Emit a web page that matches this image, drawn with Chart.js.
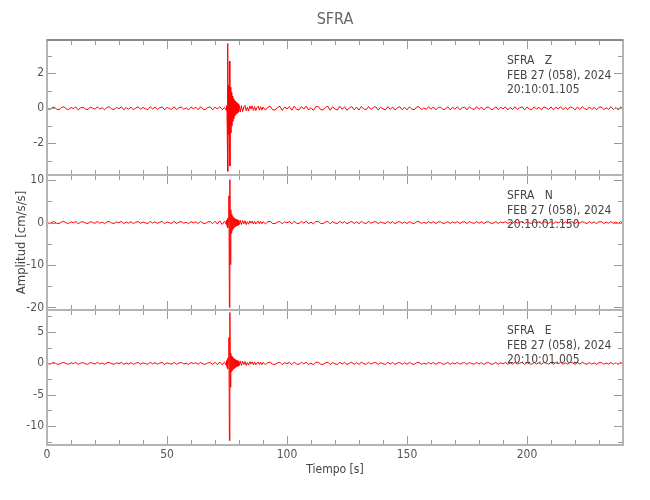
<!DOCTYPE html>
<html>
<head>
<meta charset="utf-8">
<title>SFRA</title>
<script src="https://cdn.jsdelivr.net/npm/chart.js@4.4.1/dist/chart.umd.min.js"></script>
<style>
  html, body { margin: 0; padding: 0; background: #fff; }
  #wrap { width: 650px; height: 500px; }
</style>
</head>
<body>
<div id="wrap"><canvas id="sfra" width="650" height="500"></canvas></div>
<script>
// time in seconds (shared by the three components)
const times = [
    0, 1, 2, 3, 4, 5, 6, 7, 8, 9, 10, 11, 12, 13, 14,
    15, 16, 17, 18, 19, 20, 21, 22, 23, 24, 25, 26, 27, 28, 29,
    30, 31, 32, 33, 34, 35, 36, 37, 38, 39, 40, 41, 42, 43, 44,
    45, 46, 47, 48, 49, 50, 51, 52, 53, 54, 55, 56, 57, 58, 59,
    60, 61, 62, 63, 64, 65, 66, 67, 68, 69, 70, 71, 72, 73, 74,
    // arrival
    74.6, 74.8, 75, 75.2, 75.4, 75.6, 75.8, 76, 76.2, 76.4, 76.6, 76.8, 77, 77.2,
    77.4, 77.6, 77.8, 78, 78.2, 78.4, 78.6, 78.8, 79, 79.2, 79.4, 79.6, 79.8, 80,
    // coda
    80.5, 81, 81.5, 82, 82.5, 83, 83.5, 84, 84.5, 85, 85.5, 86, 86.5, 87, 87.5, 88, 88.5, 89, 89.5, 90,
    91, 92, 93, 94, 95, 96, 97, 98, 99, 100, 101, 102, 103, 104, 105,
    106, 107, 108, 109, 110, 111, 112, 113, 114, 115, 116, 117, 118, 119, 120,
    121, 122, 123, 124, 125, 126, 127, 128, 129, 130, 131, 132, 133, 134, 135,
    136, 137, 138, 139, 140, 141, 142, 143, 144, 145, 146, 147, 148, 149, 150,
    151, 152, 153, 154, 155, 156, 157, 158, 159, 160, 161, 162, 163, 164, 165,
    166, 167, 168, 169, 170, 171, 172, 173, 174, 175, 176, 177, 178, 179, 180,
    181, 182, 183, 184, 185, 186, 187, 188, 189, 190, 191, 192, 193, 194, 195,
    196, 197, 198, 199, 200, 201, 202, 203, 204, 205, 206, 207, 208, 209, 210,
    211, 212, 213, 214, 215, 216, 217, 218, 219, 220, 221, 222, 223, 224, 225,
    226, 227, 228, 229, 230, 231, 232, 233, 234, 235, 236, 237, 238, 239, 240
];

// acceleration, cm/s/s
const ampZ = [
    0.06, -0.09, 0.02, 0.07, -0.05, -0.08, 0.04, 0.09, -0.03, -0.07, 0.05, -0.02, 0.08, -0.09, 0.03,
    0.06, -0.04, -0.08, 0.07, 0.01, -0.06, 0.09, -0.05, 0.03, -0.09, 0.06, 0.08, -0.04, -0.07, 0.05,
    -0.02, 0.09, -0.08, 0.04, -0.05, 0.07, -0.09, 0.02, 0.08, -0.06, 0.05, -0.03, -0.08, 0.09, -0.04,
    0.06, -0.07, 0.03, 0.08, -0.09, 0.05, -0.02, -0.06, 0.09, -0.08, 0.04, 0.07, -0.05, 0.02, -0.09,
    0.07, -0.03, 0.06, -0.08, 0.09, -0.05, -0.07, 0.04, 0.08, -0.09, 0.06, -0.04, 0.1, -0.08, 0.05,
    -0.1, 0.15, -0.3, 3.7, -3.6, 1.3, -1.5, 2.7, -3.3, 1.2, -1.4, 0.9, -1.0, 0.7,
    -0.75, 0.55, -0.6, 0.45, -0.45, 0.4, -0.35, 0.35, -0.3, 0.3, -0.28, 0.25, -0.22, 0.2,
    -0.22, 0.15, -0.19, 0.08, 0.17, -0.14, 0.06, -0.16, 0.13, -0.05, 0.14, -0.12, 0.1, -0.13, 0.04, 0.12, -0.1, 0.09, -0.11, 0.07,
    -0.11, 0.06, 0.12, -0.08, -0.1, 0.04, 0.11, -0.12, 0.07, -0.03, 0.1, -0.11, 0.12, -0.06, -0.09,
    0.1, -0.05, 0.12, -0.1, 0.03, -0.12, 0.09, 0.11, -0.07, -0.1, 0.05, 0.12, -0.11, 0.08, -0.04,
    -0.1, 0.11, -0.06, 0.09, -0.11, 0.02, 0.1, -0.09, 0.07, -0.1, 0.11, -0.04, -0.08, 0.1, -0.07,
    0.05, 0.09, -0.1, 0.06, -0.03, -0.09, 0.1, -0.07, 0.08, -0.1, 0.03, 0.09, -0.08, 0.06, -0.09,
    0.08, -0.04, -0.09, 0.07, 0.09, -0.08, 0.02, -0.07, 0.09, -0.06, 0.08, -0.09, 0.05, 0.07, -0.08,
    -0.03, 0.08, -0.09, 0.06, -0.05, 0.09, -0.08, 0.03, 0.07, -0.09, 0.08, -0.02, -0.07, 0.09, -0.06,
    0.07, -0.09, 0.04, 0.08, -0.07, -0.05, 0.09, -0.08, 0.06, -0.03, 0.08, -0.09, 0.05, -0.07, 0.09,
    -0.06, 0.03, 0.08, -0.09, 0.07, -0.04, -0.08, 0.09, -0.05, 0.06, -0.09, 0.08, 0.02, -0.07, 0.08,
    -0.09, 0.06, -0.03, 0.09, -0.08, 0.05, -0.07, 0.08, 0.04, -0.09, 0.07, -0.06, 0.09, -0.02, -0.08,
    0.08, -0.07, 0.05, -0.09, 0.06, 0.08, -0.08, 0.03, -0.06, 0.09, -0.07, 0.04, -0.09, 0.08, -0.05
];

const ampN = [
    0.18, -0.27, 0.06, 0.22, -0.15, -0.25, 0.12, 0.28, -0.09, -0.21, 0.15, -0.06, 0.24, -0.27, 0.09,
    0.18, -0.12, -0.24, 0.21, 0.03, -0.18, 0.27, -0.15, 0.09, -0.27, 0.18, 0.24, -0.12, -0.21, 0.15,
    -0.06, 0.27, -0.24, 0.12, -0.15, 0.21, -0.27, 0.06, 0.24, -0.18, 0.15, -0.09, -0.24, 0.27, -0.12,
    0.18, -0.21, 0.09, 0.24, -0.27, 0.15, -0.06, -0.18, 0.27, -0.24, 0.12, 0.21, -0.15, 0.06, -0.27,
    0.21, -0.09, 0.18, -0.24, 0.27, -0.15, -0.21, 0.12, 0.24, -0.27, 0.3, -0.35, 0.4, -0.45, 0.35,
    -0.4, 0.6, -0.8, 1.0, -1.2, 0.9, 6.3, -20.0, 10.1, -9.9, 3.0, -2.5, 2.0, -1.8,
    1.5, -1.4, 1.2, -1.1, 1.0, -0.95, 0.85, -0.8, 0.75, -0.7, 0.65, -0.6, 0.6, -0.55,
    0.55, -0.45, 0.5, -0.3, 0.42, -0.48, 0.2, -0.4, 0.38, -0.15, 0.36, -0.34, 0.3, -0.36, 0.12, 0.33, -0.3, 0.27, -0.32, 0.2,
    -0.3, 0.16, 0.31, -0.21, -0.26, 0.1, 0.29, -0.31, 0.18, -0.08, 0.26, -0.29, 0.31, -0.16, -0.23,
    0.26, -0.13, 0.31, -0.26, 0.08, -0.31, 0.23, 0.29, -0.18, -0.26, 0.13, 0.31, -0.29, 0.21, -0.1,
    -0.26, 0.29, -0.16, 0.23, -0.29, 0.05, 0.26, -0.23, 0.18, -0.26, 0.29, -0.1, -0.21, 0.26, -0.18,
    0.13, 0.23, -0.26, 0.16, -0.08, -0.23, 0.26, -0.18, 0.21, -0.26, 0.08, 0.23, -0.21, 0.16, -0.23,
    0.21, -0.1, -0.23, 0.18, 0.23, -0.21, 0.05, -0.18, 0.23, -0.16, 0.21, -0.23, 0.13, 0.18, -0.21,
    -0.08, 0.21, -0.23, 0.16, -0.13, 0.23, -0.21, 0.08, 0.18, -0.23, 0.21, -0.05, -0.18, 0.23, -0.16,
    0.18, -0.23, 0.1, 0.21, -0.18, -0.13, 0.23, -0.21, 0.16, -0.08, 0.21, -0.23, 0.13, -0.18, 0.23,
    -0.16, 0.08, 0.21, -0.23, 0.18, -0.1, -0.21, 0.23, -0.13, 0.16, -0.23, 0.21, 0.05, -0.18, 0.21,
    -0.23, 0.16, -0.08, 0.23, -0.21, 0.13, -0.18, 0.21, 0.1, -0.23, 0.18, -0.16, 0.23, -0.05, -0.21,
    0.21, -0.18, 0.13, -0.23, 0.16, 0.21, -0.21, 0.08, -0.16, 0.23, -0.18, 0.1, -0.23, 0.21, -0.13
];

const ampE = [
    0.11, -0.16, 0.04, 0.13, -0.09, -0.14, 0.07, 0.16, -0.05, -0.13, 0.09, -0.04, 0.14, -0.16, 0.05,
    0.11, -0.07, -0.14, 0.13, 0.02, -0.11, 0.16, -0.09, 0.05, -0.16, 0.11, 0.14, -0.07, -0.13, 0.09,
    -0.04, 0.16, -0.14, 0.07, -0.09, 0.13, -0.16, 0.04, 0.14, -0.11, 0.09, -0.05, -0.14, 0.16, -0.07,
    0.11, -0.13, 0.05, 0.14, -0.16, 0.09, -0.04, -0.11, 0.16, -0.14, 0.07, 0.13, -0.09, 0.04, -0.16,
    0.13, -0.05, 0.11, -0.14, 0.16, -0.09, -0.13, 0.07, 0.14, -0.16, 0.18, -0.2, 0.22, -0.25, 0.2,
    -0.3, 0.45, -0.6, 0.8, -0.9, 1.0, 4.1, -12.3, 8.1, -3.8, 1.6, -1.3, 1.2, -1.1,
    1.0, -0.9, 0.85, -0.8, 0.7, -0.65, 0.6, -0.55, 0.5, -0.48, 0.45, -0.42, 0.4, -0.38,
    0.4, -0.32, 0.36, -0.2, 0.3, -0.33, 0.14, -0.28, 0.27, -0.1, 0.25, -0.24, 0.21, -0.25, 0.08, 0.22, -0.2, 0.19, -0.21, 0.14,
    -0.19, 0.1, 0.2, -0.14, -0.17, 0.07, 0.19, -0.2, 0.12, -0.05, 0.17, -0.19, 0.2, -0.1, -0.15,
    0.17, -0.09, 0.2, -0.17, 0.05, -0.2, 0.15, 0.19, -0.12, -0.17, 0.09, 0.2, -0.19, 0.14, -0.07,
    -0.17, 0.19, -0.1, 0.15, -0.19, 0.03, 0.17, -0.15, 0.12, -0.17, 0.19, -0.07, -0.14, 0.17, -0.12,
    0.09, 0.15, -0.17, 0.1, -0.05, -0.15, 0.17, -0.12, 0.14, -0.17, 0.05, 0.15, -0.14, 0.1, -0.15,
    0.14, -0.07, -0.15, 0.12, 0.15, -0.14, 0.03, -0.12, 0.15, -0.1, 0.14, -0.15, 0.09, 0.12, -0.14,
    -0.05, 0.14, -0.15, 0.1, -0.09, 0.15, -0.14, 0.05, 0.12, -0.15, 0.14, -0.03, -0.12, 0.15, -0.1,
    0.12, -0.15, 0.07, 0.14, -0.12, -0.09, 0.15, -0.14, 0.1, -0.05, 0.14, -0.15, 0.09, -0.12, 0.15,
    -0.1, 0.05, 0.14, -0.15, 0.12, -0.07, -0.14, 0.15, -0.09, 0.1, -0.15, 0.14, 0.03, -0.12, 0.14,
    -0.15, 0.1, -0.05, 0.15, -0.14, 0.09, -0.12, 0.14, 0.07, -0.15, 0.12, -0.1, 0.15, -0.03, -0.14,
    0.14, -0.12, 0.09, -0.15, 0.1, 0.14, -0.14, 0.05, -0.1, 0.15, -0.12, 0.07, -0.15, 0.14, -0.09
];

// panel captions
const components = ['Z', 'N', 'E'];
const startTimes = ['20:10:01.105', '20:10:01.150', '20:10:01.005'];
const dateLine = 'FEB 27 (058), 2024';

// axis limits and tick steps
const yLimits = { Z: [-3.81, 3.9], N: [-20.6, 11.2], E: [-13, 8.5] };
const yMinorStep = { Z: 1, N: 5, E: 2.5 };
const yLabelStep = { Z: 2, N: 10, E: 5 };
const xLimits = [0, 240];
const xMinorStep = 10;
const xLabelStep = 50;

const FONT = "'Liberation Sans Narrow', 'DejaVu Sans Condensed', 'Liberation Sans', sans-serif";
Chart.defaults.font.family = FONT;
Chart.defaults.color = '#555';

if (ampZ.length !== times.length || ampN.length !== times.length || ampE.length !== times.length) {
    console.error('length mismatch', times.length, ampZ.length, ampN.length, ampE.length);
}

const series = { Z: ampZ, N: ampN, E: ampE };

function yScale(comp, weight, title) {
    return {
        type: 'linear',
        position: 'left',
        stack: 'traces',
        stackWeight: 1,
        weight: weight,
        min: yLimits[comp][0],
        max: yLimits[comp][1],
        grid: { display: false, drawTicks: false },
        border: { display: false },
        ticks: {
            stepSize: yMinorStep[comp],
            includeBounds: false,
            autoSkip: false,
            padding: 3,
            font: { size: 12 },
            callback: v => (Math.abs(v % yLabelStep[comp]) < 1e-9 ? String(v) : '')
        },
        title: title ? {
            display: true,
            text: 'Amplitud [cm/s/s]',
            font: { size: 13 },
            color: '#444',
            padding: { top: 14, bottom: 0 }
        } : { display: false },
        afterFit(scale) { scale.width = 47; }
    };
}

// gray frame with inward ticks around every panel, plus captions and title
const framePlugin = {
    id: 'framePlugin',
    afterDatasetsDraw(chart) {
        const ctx = chart.ctx;
        const xs = chart.scales.x;
        const l = xs.left, r = xs.right;
        ctx.save();
        components.forEach(comp => {
            const ys = chart.scales['y' + comp];
            const top = ys.top, bot = ys.bottom;
            ctx.strokeStyle = '#9a9a9a';
            ctx.lineWidth = 1;
            ctx.beginPath();
            ys.ticks.forEach(t => {
                const y = Math.round(ys.getPixelForValue(t.value)) + 0.5;
                const len = t.label !== '' ? 9 : 5;
                ctx.moveTo(l, y); ctx.lineTo(l + len, y);
                ctx.moveTo(r, y); ctx.lineTo(r - len, y);
            });
            xs.ticks.forEach(t => {
                const x = Math.round(xs.getPixelForValue(t.value)) + 0.5;
                const len = t.value % xLabelStep === 0 ? 9 : 5;
                ctx.moveTo(x, top); ctx.lineTo(x, top + len);
                ctx.moveTo(x, bot); ctx.lineTo(x, bot - len);
            });
            ctx.stroke();
            ctx.strokeStyle = '#b4b4b4';
            ctx.lineWidth = 2;
            ctx.strokeRect(l, top, r - l, bot - top);
        });
        // top edge is a touch darker
        const yz = chart.scales.yZ;
        ctx.strokeStyle = '#888';
        ctx.lineWidth = 2;
        ctx.beginPath();
        ctx.moveTo(l, yz.top); ctx.lineTo(r, yz.top);
        ctx.stroke();

        ctx.fillStyle = '#444';
        ctx.font = '12px ' + FONT;
        ctx.textAlign = 'left';
        ctx.textBaseline = 'middle';
        components.forEach((comp, i) => {
            const ys = chart.scales['y' + comp];
            const x0 = 507;
            ctx.fillText('SFRA   ' + comp, x0, ys.top + 21);
            ctx.fillText(dateLine, x0, ys.top + 36);
            ctx.fillText(startTimes[i], x0, ys.top + 50);
        });

        ctx.fillStyle = '#666';
        ctx.font = '16px ' + FONT;
        ctx.textAlign = 'center';
        ctx.fillText('SFRA', (l + r) / 2, 20);
        ctx.restore();
    }
};

const datasets = components.map(comp => ({
    label: comp,
    data: times.map((t, i) => ({ x: t, y: series[comp][i] })),
    yAxisID: 'y' + comp,
    borderColor: '#ff0000',
    borderWidth: 1,
    pointRadius: 0,
    tension: 0,
    fill: false
}));

const chart = new Chart(document.getElementById('sfra'), {
    type: 'line',
    data: { datasets: datasets },
    options: {
        responsive: false,
        animation: false,
        events: [],
        layout: { padding: { top: 40, right: 27, bottom: 0, left: 0 } },
        plugins: {
            legend: { display: false },
            title: { display: false },
            tooltip: { enabled: false }
        },
        scales: {
            x: {
                type: 'linear',
                position: 'bottom',
                min: xLimits[0],
                max: xLimits[1],
                grid: { display: false, drawTicks: false },
                border: { display: false },
                ticks: {
                    stepSize: xMinorStep,
                    autoSkip: false,
                    maxRotation: 0,
                    padding: 3,
                    font: { size: 12 },
                    callback: v => (v % xLabelStep === 0 ? String(v) : '')
                },
                title: {
                    display: true,
                    text: 'Tiempo [s]',
                    font: { size: 12 },
                    color: '#444',
                    padding: { top: 0, bottom: 23 }
                },
                afterFit(scale) { scale.height = 55; }
            },
            yZ: yScale('Z', 3, false),
            yN: yScale('N', 2, true),
            yE: yScale('E', 1, false)
        }
    },
    plugins: [framePlugin]
});
</script>
</body>
</html>
